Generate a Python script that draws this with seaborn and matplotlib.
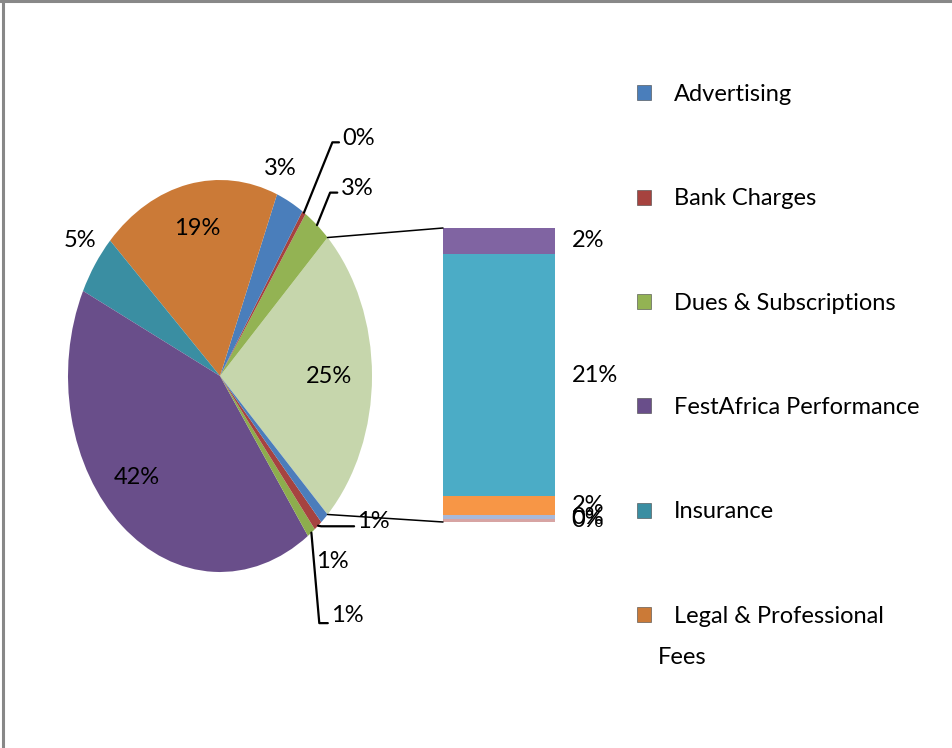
import matplotlib
matplotlib.use("Agg")
import matplotlib.pyplot as plt
import matplotlib.patches as mpatches
from matplotlib.patches import ConnectionPatch
from matplotlib.lines import Line2D
import numpy as np
import seaborn as sns

sns.set_theme(style="white")
plt.rcParams["font.family"] = ["Lato", "DejaVu Sans"]
plt.rcParams["text.color"] = "black"

# stacked bar (the split-off "Other" part of the pie), top to bottom, in %
bar_names = ["Misc A", "Misc B", "Misc C", "Misc D", "Misc E"]
bar_values = [2.2, 20.6, 1.6, 0.35, 0.25]
bar_colors = ["#8064A2", "#4BACC6", "#F79646", "#A7B9DA", "#D7A4A3"]

# main pie slices, counter-clockwise after the "Other" slice, in %
pie_names = ["Dues & Subscriptions", "Bank Charges", "Advertising",
             "Legal & Professional Fees", "Insurance", "FestAfrica Performance",
             "Misc F", "Misc G", "Misc H"]
pie_values = [3.0, 0.4, 3.0, 19.0, 5.0, 42.0, 0.9, 0.9, 0.9]
pie_colors = ["#93B353", "#A6433F", "#4A7EBB", "#CB7A37", "#3A8EA2",
              "#694E8A", "#8DAD4D", "#A64340", "#4C7DBB"]
other_color = "#C6D6AC"

legend_names = ["Advertising", "Bank Charges", "Dues & Subscriptions",
                "FestAfrica Performance", "Insurance", "Legal & Professional Fees"]

# label placement per pie slice: radius, angle shift, leader angle (None = no leader), text anchor height
label_r = [0.72, 1.243, 1.456, 1.13, 0.765, 1.15, 0.754, 1.425, 1.168, 1.20]
label_da = [0, 0, 0, 6.7, -0.9, -2.3, -6.4, -6.1, 10.5, -5.6]
leader_ang = [None, 68, 68, None, None, None, None, -85, -10, None]
leader_rel = [0.5, 0.3, 0.3, 0.5, 0.5, 0.5, 0.5, 0.15, 0.25, 0.5]

W, H = 953, 748
fig = plt.figure(figsize=(W / 100, H / 100), dpi=100)
fs = 17

other = sum(bar_values)
values = [other] + pie_values
colors = [other_color] + pie_colors

# ---- pie (stretched vertically like the original)
ax_pie = fig.add_axes([68 / W, (H - 572) / H, 304 / W, 392 / H])
start = -360 * other / sum(values) / 2
wedges, _ = ax_pie.pie(values, colors=colors, startangle=start, counterclock=True,
                       wedgeprops=dict(linewidth=0))
ax_pie.set_aspect("auto")
ax_pie.set_xlim(-1, 1)
ax_pie.set_ylim(-1, 1)
ax_pie.axis("off")

for i, (w, v) in enumerate(zip(wedges, values)):
    mid = (w.theta1 + w.theta2) / 2
    ang = np.deg2rad(mid + label_da[i])
    pos = (label_r[i] * np.cos(ang), label_r[i] * np.sin(ang))
    txt = f"{v:.0f}%"
    if leader_ang[i] is None:
        ax_pie.text(pos[0], pos[1], txt, ha="center", va="center", fontsize=fs,
                    color="black")
    else:
        edge = (np.cos(np.deg2rad(mid)), np.sin(np.deg2rad(mid)))
        ax_pie.annotate(txt, xy=edge, xytext=pos, ha="left", va="center",
                        fontsize=fs, color="black",
                        arrowprops=dict(arrowstyle="-", color="black", lw=1.6,
                                        shrinkA=0, shrinkB=0,
                                        relpos=(0, leader_rel[i]),
                                        connectionstyle=f"angle,angleA=0,angleB={leader_ang[i]},rad=0"))

# ---- stacked bar of the "Other" slice
ax_bar = fig.add_axes([443 / W, (H - 522) / H, 112 / W, 294 / H])
cum = np.cumsum(bar_values[::-1])[::-1]  # top of each segment
for top, c in zip(cum, bar_colors):
    sns.barplot(x=["Other"], y=[top], color=c, width=1, saturation=1,
                linewidth=0, ax=ax_bar)
ax_bar.set_xlim(-0.5, 0.5)
ax_bar.set_ylim(0, other)
ax_bar.axis("off")
for top, v in zip(cum, bar_values):
    ax_bar.annotate(f"{v:.0f}%", xy=(0.5, top - v / 2), xytext=(12, 0),
                    textcoords="offset points", ha="left", va="center",
                    fontsize=fs, color="black")

# connector lines between the pie slice and the bar
for theta, yb in [(wedges[0].theta2, 1), (wedges[0].theta1, 0)]:
    t = np.deg2rad(theta)
    con = ConnectionPatch(xyA=(np.cos(t), np.sin(t)), coordsA=ax_pie.transData,
                          xyB=(0, yb), coordsB=ax_bar.transAxes,
                          color="black", lw=1.1)
    fig.add_artist(con)

# ---- legend (last entry wraps onto a second, less indented line)
color_of = dict(zip(pie_names, pie_colors))
handles = [mpatches.Patch(facecolor=color_of[n], edgecolor="#444444", linewidth=0.4)
           for n in legend_names]
labels = legend_names[:-1] + [legend_names[-1].rsplit(" ", 1)[0]]
fig.legend(handles, labels, loc="upper left", bbox_to_anchor=(637 / W, 1 - 84 / H),
           frameon=False, fontsize=fs, handlelength=0.6, handleheight=0.6,
           handletextpad=0.95, labelspacing=3.53, borderpad=0, borderaxespad=0,
           labelcolor="black")
fig.text(658 / W, 1 - 657 / H, legend_names[-1].rsplit(" ", 1)[1], ha="left",
         va="center", fontsize=fs, color="black")

# outer frame (top and left edges only)
fig.add_artist(Line2D([0.0035, 0.0035], [0, 1], transform=fig.transFigure,
                      color="#888888", lw=2.2))
fig.add_artist(Line2D([0, 1], [0.998, 0.998], transform=fig.transFigure,
                      color="#888888", lw=2.2))

fig.savefig("out.png", dpi=100)
